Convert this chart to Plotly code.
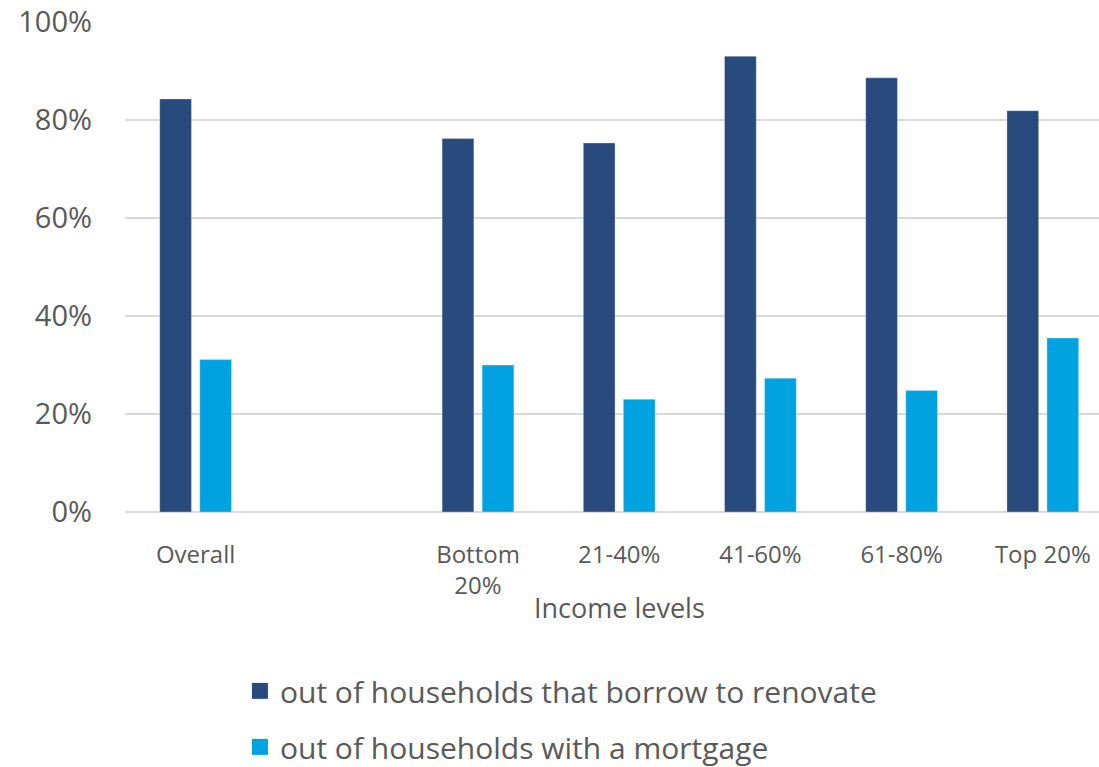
import plotly.graph_objects as go

# Income groups (a blank slot separates "Overall" from the quintiles)
categories = ["Overall", "", "Bottom 20%", "21-40%", "41-60%", "61-80%", "Top 20%"]
tick_labels = ["Overall", "", "Bottom<br>20%", "21-40%", "41-60%", "61-80%", "Top 20%"]

# Share (%) of households, by income level
borrow_to_renovate = [84.3, None, 76.2, 75.3, 93.0, 88.6, 81.9]
with_mortgage = [31.1, None, 30.0, 23.0, 27.3, 24.8, 35.5]

series_names = [
    "out of households that borrow to renovate",
    "out of households with a mortgage",
]
colors = ["#284a7d", "#00a2e0"]

y_ticks = [0, 20, 40, 60, 80, 100]
y_tick_labels = ["0%", "20%", "40%", "60%", "80%", "100%"]

FONT = "Open Sans"
GREY = "#595959"

fig = go.Figure()
for i, (name, vals, col) in enumerate(zip(series_names, [borrow_to_renovate, with_mortgage], colors)):
    fig.add_trace(go.Bar(
        x=categories, y=vals, name=name, legendgroup=f"g{i}", showlegend=False,
        marker=dict(color=col, line=dict(color="rgba(255,255,255,0.5)", width=0.6)),
    ))
    # larger square swatch for the legend entry
    fig.add_trace(go.Scatter(
        x=[None], y=[None], mode="markers", name=name, legendgroup=f"g{i}",
        marker=dict(symbol="square", size=20, color=col),
    ))

fig.update_layout(
    width=1099, height=767,
    margin=dict(l=125, r=0, t=22, b=255, autoexpand=False),
    paper_bgcolor="white", plot_bgcolor="white",
    barmode="group", bargap=0.433, bargroupgap=0.2075,
    font=dict(family=FONT, color=GREY),
    showlegend=True,
    legend=dict(
        orientation="v", x=0.118, xanchor="left", y=-0.312, yanchor="top",
        font=dict(size=30, color=GREY, family=FONT),
        traceorder="grouped", tracegroupgap=14, itemsizing="trace",
        bgcolor="rgba(0,0,0,0)",
    ),
    xaxis=dict(
        type="category", categoryorder="array", categoryarray=categories,
        tickvals=categories, ticktext=tick_labels,
        range=[-0.5, 6.398],
        tickfont=dict(size=24, color=GREY, family=FONT),
        showgrid=False, showline=False, ticks="", zeroline=False,
        ticklabelstandoff=26,
    ),
    yaxis=dict(
        range=[0, 100], tickvals=y_ticks, ticktext=y_tick_labels,
        tickfont=dict(size=29, color=GREY, family=FONT),
        showgrid=True, gridcolor="#d9d9d9", gridwidth=1.5,
        zeroline=True, zerolinecolor="#d9d9d9", zerolinewidth=1.5,
        showline=False, ticks="", ticklabelstandoff=32,
    ),
    annotations=[dict(
        text="Income levels", xref="paper", yref="paper",
        x=0.508, y=0, xanchor="center", yanchor="middle", yshift=-95,
        showarrow=False, font=dict(size=27, color=GREY, family=FONT),
    )],
)

fig.write_html("out.html")
